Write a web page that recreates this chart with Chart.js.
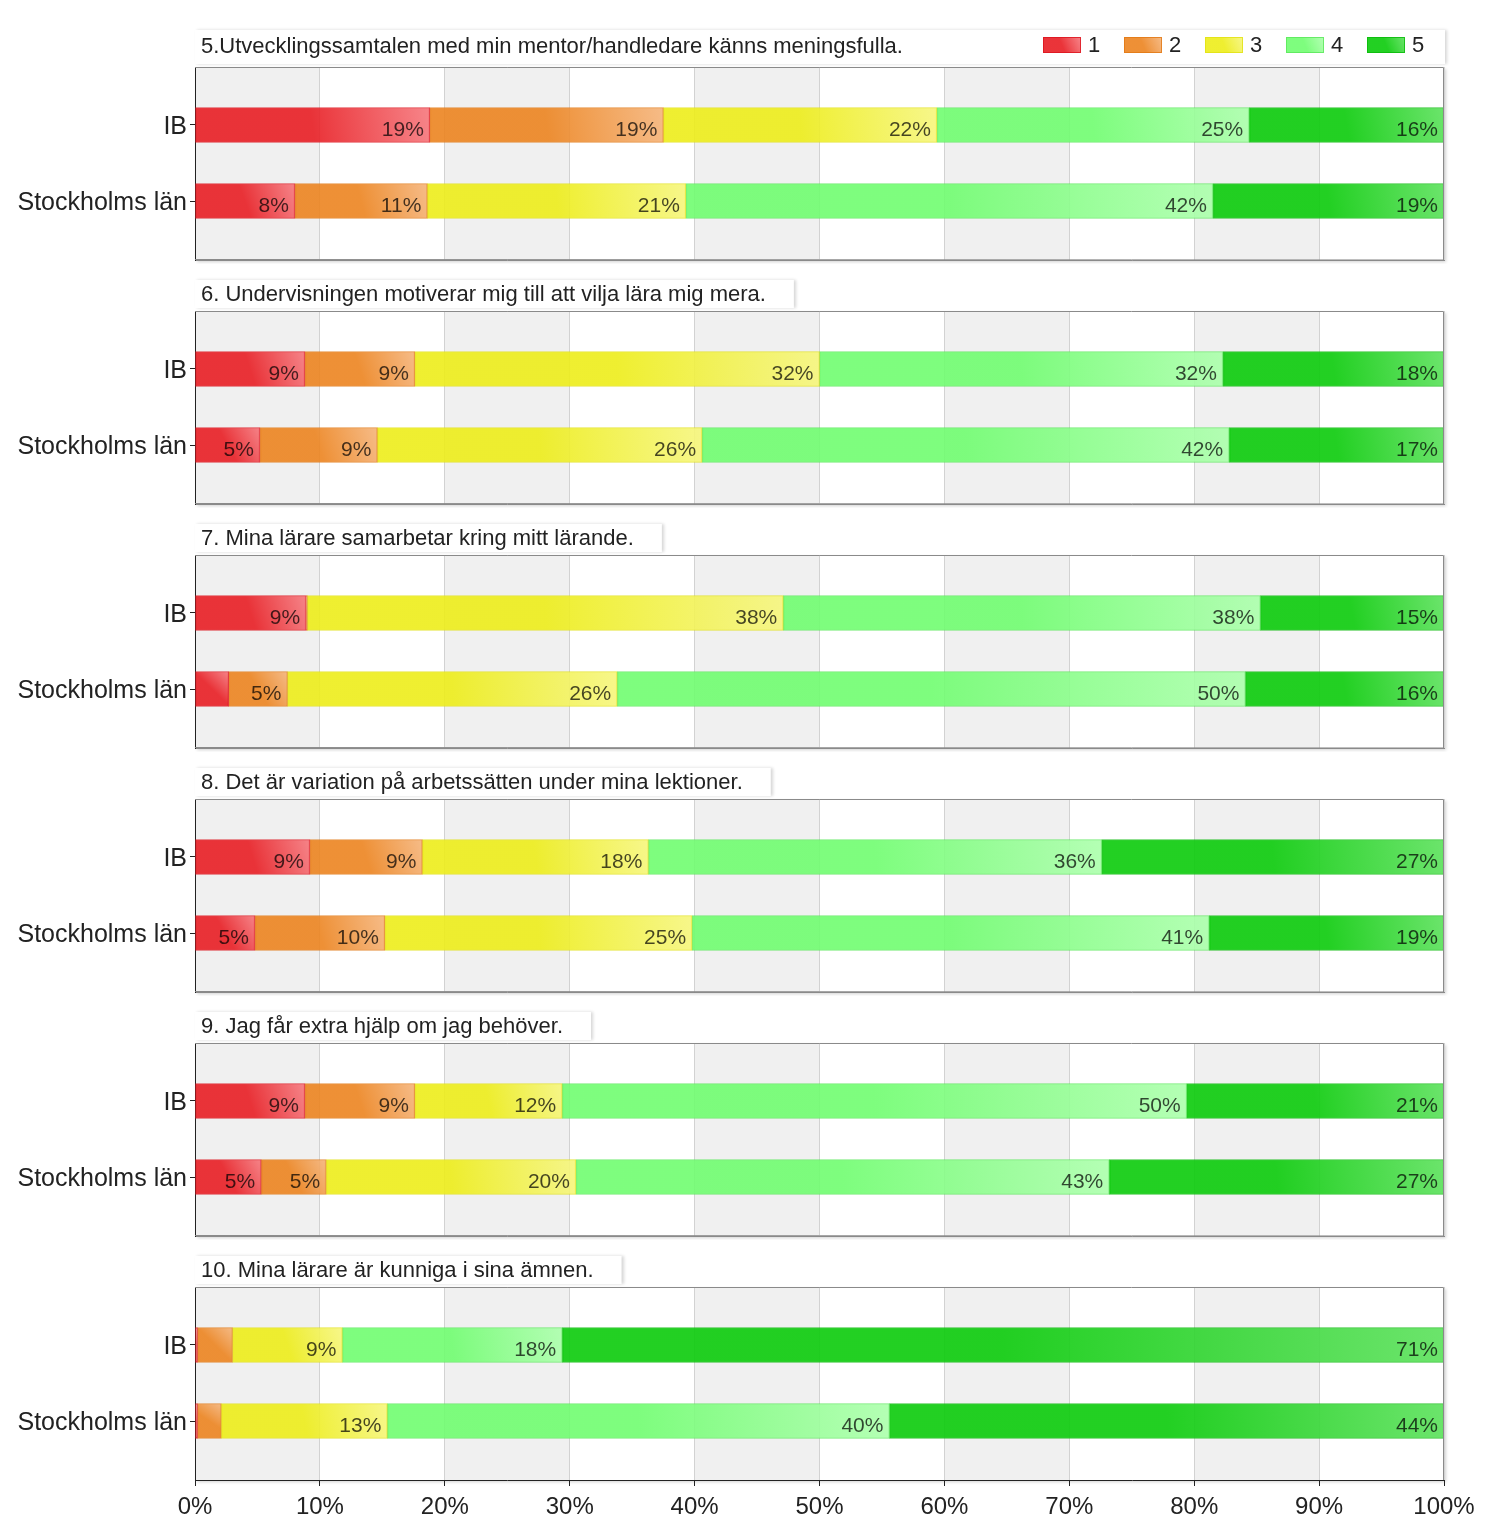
<!DOCTYPE html>
<html><head><meta charset="utf-8">
<script src="https://cdn.jsdelivr.net/npm/chart.js@4/dist/chart.umd.min.js"></script>
<style>
html,body{margin:0;padding:0;background:#fff;}
#wrap{position:relative;width:1500px;height:1537px;overflow:hidden;background:#fff;}
#wrap canvas{position:absolute;left:0;}
</style></head><body><div id="wrap"></div>
<script>
// ---- data ----
const categories = ['IB', 'Stockholms län'];
const seriesNames = ['1', '2', '3', '4', '5'];
const questions = [
  '5.Utvecklingssamtalen med min mentor/handledare känns meningsfulla.',
  '6. Undervisningen motiverar mig till att vilja lära mig mera.',
  '7. Mina lärare samarbetar kring mitt lärande.',
  '8. Det är variation på arbetssätten under mina lektioner.',
  '9. Jag får extra hjälp om jag behöver.',
  '10. Mina lärare är kunniga i sina ämnen.'
];
// per question: [IB, Stockholms län]
const answer1 = [[18.8, 8.0], [8.8, 5.2], [8.9, 2.7], [9.2, 4.8], [8.8, 5.3], [0.2, 0.2]];
const answer2 = [[18.7, 10.6], [8.8, 9.4], [0.1, 4.7], [9.0, 10.4], [8.8, 5.2], [2.8, 1.9]];
const answer3 = [[21.9, 20.7], [32.4, 26.0], [38.1, 26.4], [18.1, 24.6], [11.8, 20.0], [8.8, 13.3]];
const answer4 = [[25.0, 42.2], [32.3, 42.2], [38.2, 50.3], [36.3, 41.4], [50.0, 42.7], [17.6, 40.2]];
const answer5 = [[15.6, 18.5], [17.7, 17.2], [14.7, 15.9], [27.4, 18.8], [20.6, 26.8], [70.6, 44.4]];
const xTickValues = [0, 10, 20, 30, 40, 50, 60, 70, 80, 90, 100];

const series = [answer1, answer2, answer3, answer4, answer5];

// ---- styles ----
const baseCol = ['rgba(232,30,36,0.9)', 'rgba(236,132,32,0.9)', 'rgba(237,237,26,0.9)', 'rgba(112,253,112,0.9)', 'rgba(16,204,16,0.92)'];
const lightCol = ['rgba(246,120,125,0.9)', 'rgba(245,180,122,0.9)', 'rgba(246,246,125,0.9)', 'rgba(172,255,172,0.9)', 'rgba(95,226,95,0.92)'];
const borderCol = ['rgba(220,20,30,0.8)', 'rgba(225,120,20,0.8)', 'rgba(225,225,20,0.8)', 'rgba(90,230,90,0.8)', 'rgba(10,185,10,0.8)'];
const FONT = '"Liberation Sans", Arial, sans-serif';
const BAR_H = 35;

function makeGrad(c, x0, x1, yTop, yBot, si) {
  const g = c.createLinearGradient(x0, yBot, x1, yTop);
  g.addColorStop(0, baseCol[si]);
  g.addColorStop(0.5, baseCol[si]);
  g.addColorStop(1, lightCol[si]);
  return g;
}

function barBg(si, q) {
  return function (ctx) {
    const chart = ctx.chart;
    const xs = chart.scales.x, ys = chart.scales.y;
    if (!xs || !ys || ctx.dataIndex === undefined) return baseCol[si];
    const di = ctx.dataIndex;
    let start = 0;
    for (let k = 0; k < si; k++) start += series[k][q][di];
    const end = start + series[si][q][di];
    const x0 = xs.getPixelForValue(start), x1 = xs.getPixelForValue(end);
    const yc = ys.getPixelForValue(di);
    if (![x0, x1, yc].every(isFinite)) return baseCol[si];
    return makeGrad(chart.ctx, x0, x1, yc - BAR_H / 2, yc + BAR_H / 2, si);
  };
}

const panelPlugin = {
  id: 'panelDeco',
  beforeDraw(chart, args, opts) {
    const c = chart.ctx, a = chart.chartArea;
    c.save();
    // plot shadow + white bg
    c.shadowColor = 'rgba(0,0,0,0.18)';
    c.shadowBlur = 3; c.shadowOffsetX = 2; c.shadowOffsetY = 2;
    c.fillStyle = '#fff';
    c.fillRect(a.left, a.top, a.right - a.left, a.bottom - a.top);
    c.shadowColor = 'transparent';
    const xs = chart.scales.x;
    c.fillStyle = '#f0f0f0';
    for (let v = 0; v < 100; v += 20) {
      const p0 = xs.getPixelForValue(v), p1 = xs.getPixelForValue(v + 10);
      c.fillRect(p0, a.top, p1 - p0, a.bottom - a.top);
    }
    // title box
    c.font = '22px ' + FONT;
    const q = opts.q;
    const tw = c.measureText(questions[q]).width;
    const boxTop = q === 0 ? a.top - 37 : a.top - 31;
    const boxRight = q === 0 ? a.right + 1 : a.left + 6 + tw + 28;
    c.shadowColor = 'rgba(0,0,0,0.16)';
    c.shadowBlur = 3; c.shadowOffsetX = 2; c.shadowOffsetY = 0;
    c.fillStyle = '#fff';
    c.fillRect(a.left, boxTop, boxRight - a.left, a.top - 3 - boxTop);
    c.shadowColor = 'transparent';
    c.fillStyle = '#222';
    c.textBaseline = 'middle';
    c.textAlign = 'left';
    c.fillText(questions[q], a.left + 6, q === 0 ? a.top - 20 : a.top - 16);
    if (q === 0) {
      for (let i = 0; i < seriesNames.length; i++) {
        const bx = 1043 + 81 * i, by = a.top - 30;
        c.fillStyle = makeGrad(c, bx, bx + 38, by, by + 16, i);
        c.fillRect(bx, by, 38, 16);
        c.strokeStyle = borderCol[i];
        c.lineWidth = 1;
        c.strokeRect(bx + 0.5, by + 0.5, 37, 15);
        c.fillStyle = '#222';
        c.font = '22px ' + FONT;
        c.fillText(seriesNames[i], bx + 45, by + 9);
      }
    }
    c.restore();
  },
  afterDatasetsDraw(chart, args, opts) {
    const c = chart.ctx, a = chart.chartArea;
    c.save();
    c.font = '21px ' + FONT;
    c.textAlign = 'right';
    c.textBaseline = 'alphabetic';
    c.fillStyle = 'rgba(0,0,0,0.72)';
    chart.data.datasets.forEach((ds, si) => {
      const meta = chart.getDatasetMeta(si);
      meta.data.forEach((el, i) => {
        const v = ds.data[i].x;
        if (v >= 3.5) c.fillText(Math.round(v) + '%', el.x - 6, el.y + 11);
      });
    });
    // plot border
    c.strokeStyle = '#8a8a8a';
    c.lineWidth = 1;
    c.beginPath();
    c.moveTo(a.left, a.top + 0.5); c.lineTo(a.right - 0.5, a.top + 0.5);
    c.lineTo(a.right - 0.5, a.bottom);
    if (opts.q < 5) c.lineTo(a.left, a.bottom - 0.5);
    c.stroke();
    c.restore();
  }
};

const wrap = document.getElementById('wrap');
const PAD_TOP = 56;
for (let q = 0; q < questions.length; q++) {
  const last = q === questions.length - 1;
  const canvas = document.createElement('canvas');
  const h = PAD_TOP + 193 + (last ? 57 : 4);
  canvas.width = 1500; canvas.height = h;
  canvas.style.width = '1500px'; canvas.style.height = h + 'px';
  canvas.style.top = (67 + 244 * q - PAD_TOP) + 'px';
  wrap.appendChild(canvas);

  const datasets = seriesNames.map((name, si) => ({
    label: name,
    data: categories.map((cat, di) => ({ x: series[si][q][di], y: di })),
    backgroundColor: barBg(si, q),
    borderColor: borderCol[si],
    borderWidth: 1,
    borderSkipped: false,
    barThickness: BAR_H
  }));

  new Chart(canvas, {
    type: 'bar',
    data: { datasets },
    plugins: [panelPlugin],
    options: {
      indexAxis: 'y',
      responsive: false,
      animation: false,
      events: [],
      layout: { padding: { left: 0, right: 56, top: PAD_TOP, bottom: last ? 0 : 4 } },
      plugins: { legend: { display: false }, tooltip: { enabled: false }, title: { display: false }, panelDeco: { q } },
      scales: {
        x: {
          type: 'linear', stacked: true, min: 0, max: 100,
          afterBuildTicks: s => { s.ticks = xTickValues.map(v => ({ value: v })); },
          afterFit: s => { s.height = last ? 57 : 0; },
          grid: { color: '#d2d2d2', drawTicks: last, tickLength: 6, tickColor: '#222' },
          border: { display: true, color: last ? '#222' : '#8a8a8a', width: 1 },
          ticks: { display: last, padding: 7, color: '#222', font: { size: 24, family: FONT }, callback: v => v + '%', maxRotation: 0, autoSkip: false }
        },
        y: {
          type: 'linear', stacked: true, reverse: true, offset: false, min: -0.763, max: 1.776,
          afterBuildTicks: s => { s.ticks = categories.map((c, i) => ({ value: i })); },
          afterFit: s => { s.width = 195; s.paddingTop = 0; s.paddingBottom = 0; },
          grid: { drawOnChartArea: false, drawTicks: true, tickLength: 5, tickColor: '#222', offset: false },
          border: { display: true, color: '#222', width: 1 },
          ticks: { padding: 3, labelOffset: 2, color: '#222', font: { size: 25, family: FONT }, callback: v => categories[v] ?? '', autoSkip: false }
        }
      }
    }
  });
}
</script></body></html>
